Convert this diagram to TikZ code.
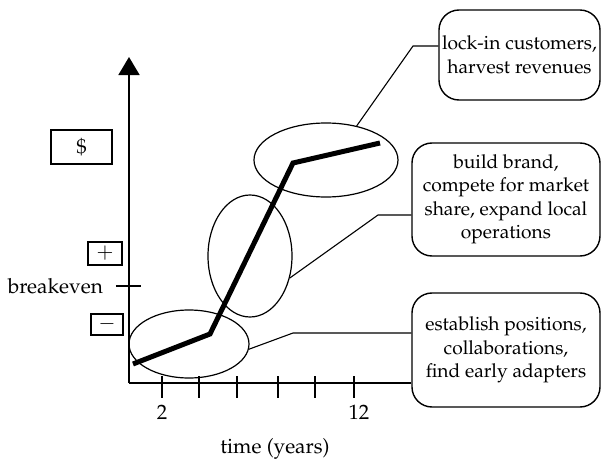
\documentclass[tikz,border=0pt]{standalone}
\usepackage[T1]{fontenc}
\usepackage{mathpazo}
\usepackage{tikz}
\usetikzlibrary{positioning,arrows.meta,shapes.geometric}

\begin{document}
\begin{tikzpicture}[x=0.5pt,y=-0.5pt,
    every node/.style={font=\fontsize{10.4}{11.8}\selectfont},
    sign/.style={draw,line width=0.6pt,inner sep=0pt},
    phase/.style={draw,ellipse,line width=0.6pt,inner sep=0pt},
    note/.style={draw,rounded corners=10pt,line width=0.7pt,align=center,inner sep=0pt,
      font=\fontsize{9.6}{11.75}\selectfont},
    axis/.style={line width=0.8pt},
    leader/.style={line width=0.55pt}]
  \useasboundingbox (0,0) rectangle (602,461);
  % stage notes
  \node[note,minimum width=80.5pt,minimum height=45pt] (boxA) at (519.5,55) {lock-in customers,\\harvest revenues};
  \node[note,minimum width=94pt,minimum height=56.5pt] (boxB) at (506,199.5) {build brand,\\compete for market\\share, expand local\\operations};
  \node[note,minimum width=94pt,minimum height=57pt] (boxC) at (506,350) {establish positions,\\collaborations,\\find early adapters};
  % axes
  \coordinate (O) at (129,383);
  \coordinate (top) at (129,57);
  \draw[axis,-{Triangle[length=9pt,width=10.5pt]}] (O) -- (top);
  \draw[axis] (O) -- (boxC.west |- O);
  \foreach \x in {162,199,237,278,315,354}
    \draw[line width=0.6pt] (\x,376) -- (\x,398);
  \draw[line width=0.6pt] (116,286) -- (141,286);
  \node (two) at (162,412) {2};
  \node (twelve) at (359,412) {12};
  \node (time) at (275,449) {time (years)};
  \node[anchor=east] (be) at (110,286) {breakeven};
  \node[sign,minimum width=30.5pt,minimum height=17pt] (dollar) at (81.5,147) {\$};
  \node[sign,minimum width=17pt,minimum height=11.5pt] (plus) at (105,253.5) {$+$};
  \node[sign,minimum width=16pt,minimum height=10.5pt] (minus) at (107,324.5) {$-$};
  % growth path
  \draw[line width=2.5pt] (133,364) -- (210,334) -- (293,163) -- (380,143);
  \node[phase,minimum width=60pt,minimum height=34pt] (e1) at (189,344) {};
  \node[phase,minimum width=42pt,minimum height=61pt] (e2) at (250,256) {};
  \node[phase,minimum width=72pt,minimum height=37pt] (e3) at (326,160) {};
  % leaders
  \coordinate (kA) at (413,46);
  \coordinate (kB) at (378,215);
  \coordinate (kC) at (293,333);
  \draw[leader] (e3.48) -- (kA) -- (kA -| boxA.west);
  \draw[leader] (e2.-29) -- (kB) -- (kB -| boxB.west);
  \draw[leader] (e1.-5) -- (kC) -- (kC -| boxC.west);
\end{tikzpicture}
\end{document}
